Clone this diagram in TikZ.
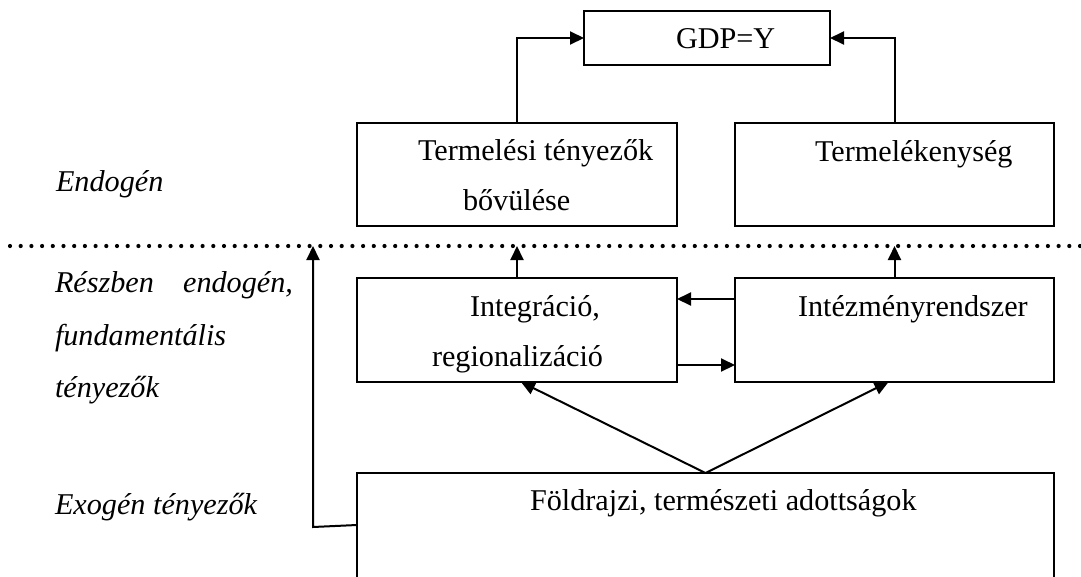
\documentclass[tikz,border=0pt]{standalone}
\usepackage{fontspec}
\setmainfont{Liberation Serif}
\usetikzlibrary{arrows.meta}
\tikzset{
  box/.style={draw, line width=2pt, inner sep=0pt, outer sep=0pt},
  txt/.style={anchor=base west, inner sep=0pt, outer sep=0pt, font=\fontsize{30.2}{35}\selectfont},
  itxt/.style={txt, font=\fontsize{30.2}{35}\selectfont\itshape},
  arr/.style={line width=2pt, -{Triangle[length=14pt,width=13pt]}},
  dots/.style={line width=4.2pt, line cap=round, dash pattern=on 0pt off 10.7pt}
}
\begin{document}
\begin{tikzpicture}[x=1pt,y=-1pt]
\useasboundingbox (0,0) rectangle (1081,576);
\begin{scope}
\clip (0,0) rectangle (1081,576);
% boxes
\node[box, minimum width=246pt, minimum height=54pt] (gdp) at (707,38) {};
\node[box, minimum width=320pt, minimum height=103pt] (tb) at (517,174.5) {};
\node[box, minimum width=319pt, minimum height=103pt] (tk) at (894.5,174.5) {};
\node[box, minimum width=320pt, minimum height=104pt] (integ) at (517,330) {};
\node[box, minimum width=319pt, minimum height=104pt] (intez) at (894.5,330) {};
\node[box, minimum width=697pt, minimum height=130pt] (fold) at (705.5,538) {};
% texts
\node[txt] (t1) at (676,48) {GDP=Y};
\node[txt] (t2) at (418,160) {Termelési tényezők};
\node[txt] (t3) at (463,210) {bővülése};
\node[txt] (t4) at (815,161) {Termelékenység};
\node[txt] (t5) at (470,316) {Integráció,};
\node[txt] (t6) at (432,366) {regionalizáció};
\node[txt] (t7) at (798,316) {Intézményrendszer};
\node[txt] (t8) at (530,510) {Földrajzi, természeti adottságok};
\node[itxt] (l1) at (56,191) {Endogén};
\node[itxt] (l2) at (55,292) {\makebox[238pt][s]{Részben endogén,}};
\node[itxt] (l3) at (55,345) {fundamentális};
\node[itxt] (l4) at (55,397) {tényezők};
\node[itxt] (l5) at (55,514) {Exogén tényezők};
% dotted separator
\coordinate (dl) at (10,246);
\coordinate (dr) at (1081,246);
\draw[dots] (dl) -- (dr);
% connectors
\draw[arr] (tb.north) |- (gdp.west);
\draw[arr] (tk.north) |- (gdp.east);
\draw[arr] (integ.north) -- (integ.north |- dl);
\draw[arr] (intez.north) -- (intez.north |- dl);
\draw[arr] ([yshift=31pt]intez.west) -- ([yshift=31pt]integ.east);
\draw[arr] ([yshift=-35pt]integ.east) -- ([yshift=-35pt]intez.west);
\draw[arr] (fold.north) -- ([xshift=4pt]integ.south);
\draw[arr] (fold.north) -- ([xshift=-6pt]intez.south);
\coordinate (lc) at (313,527);
\draw[arr] ([yshift=13pt]fold.west) -- (lc) -- (lc |- dl);
\end{scope}
\end{tikzpicture}
\end{document}
